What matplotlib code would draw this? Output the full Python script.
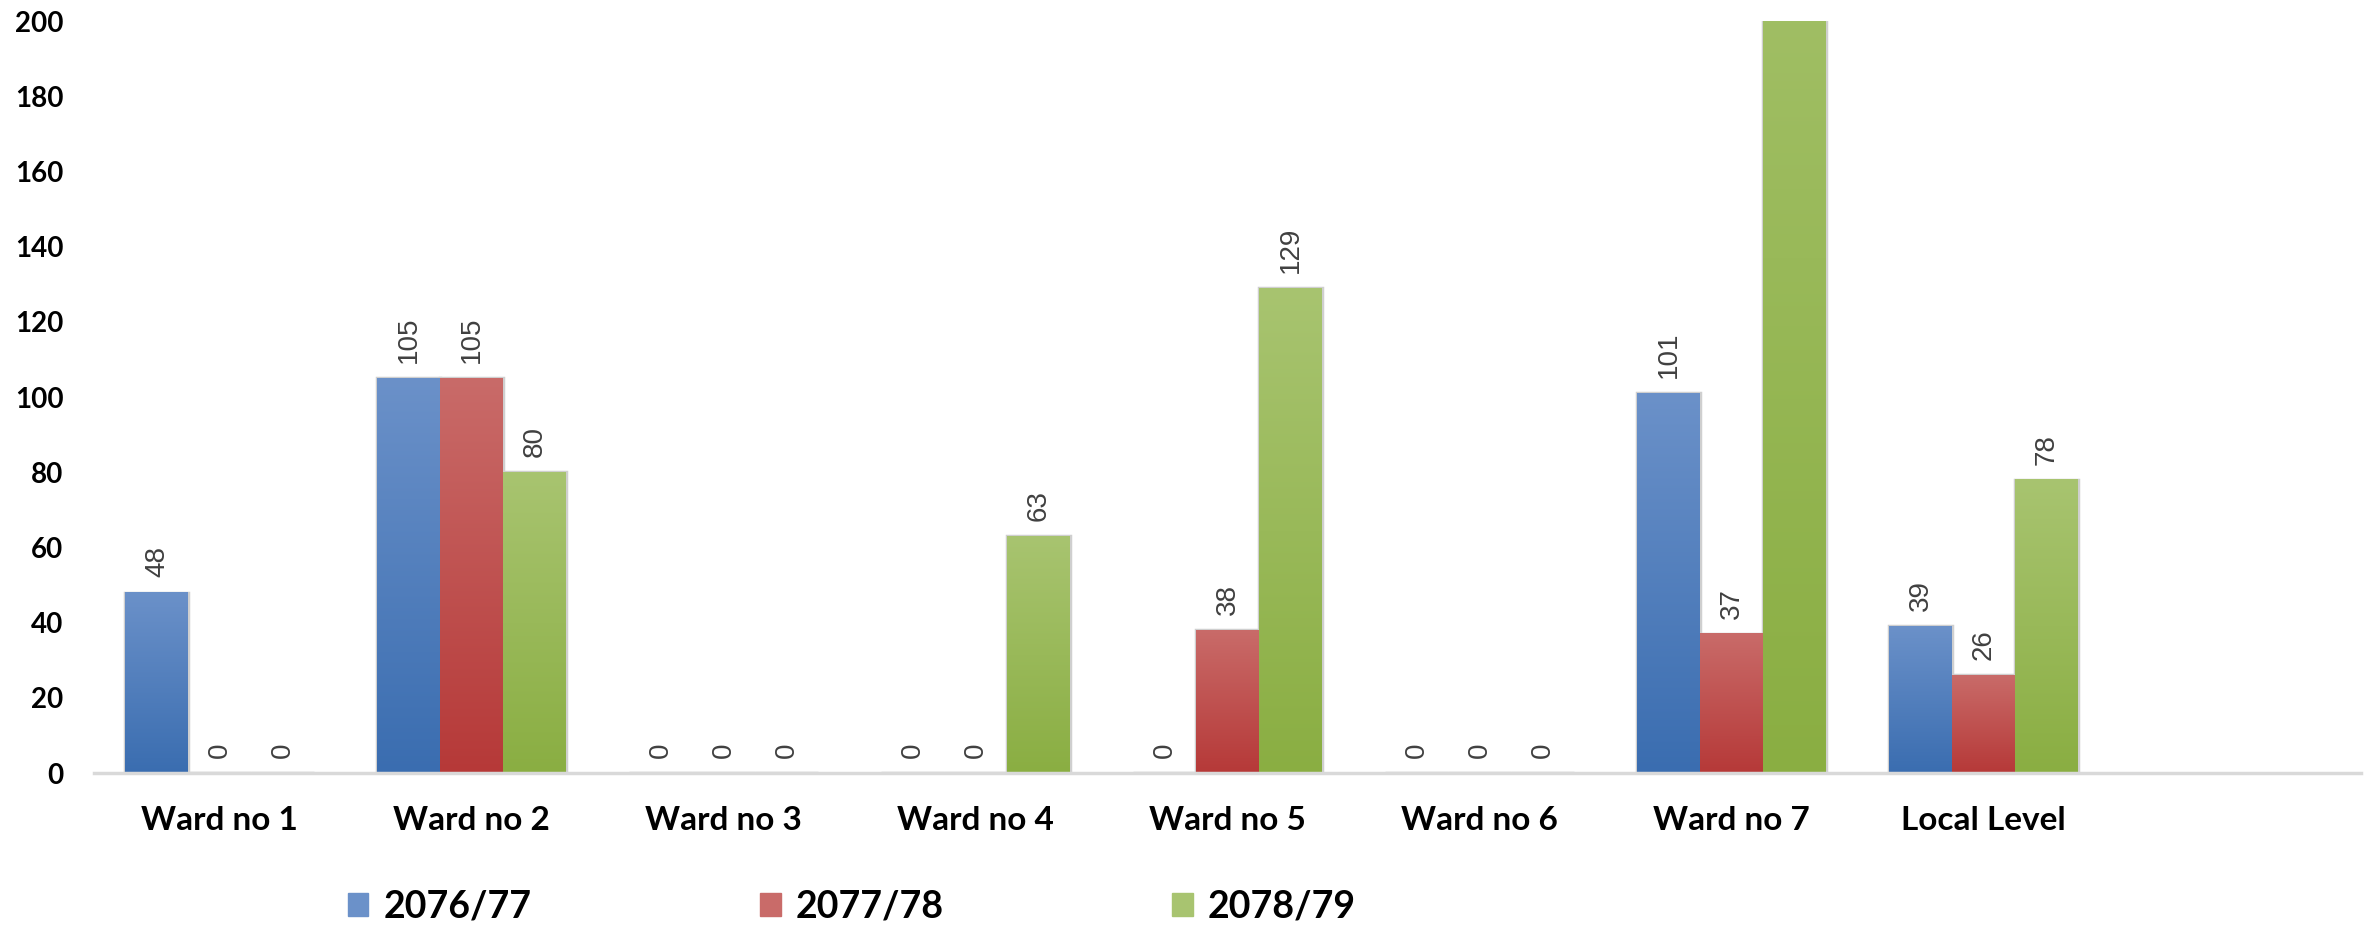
import matplotlib.pyplot as plt
import numpy as np
from matplotlib.colors import LinearSegmentedColormap
from matplotlib.patches import Patch

categories = ["Ward no 1", "Ward no 2", "Ward no 3", "Ward no 4", "Ward no 5",
              "Ward no 6", "Ward no 7", "Local Level"]
series = ["2076/77", "2077/78", "2078/79"]
v_2076 = [48, 105, 0, 0, 0, 0, 101, 39]
v_2077 = [0, 105, 0, 0, 38, 0, 37, 26]
v_2078 = [0, 80, 0, 63, 129, 0, 274, 78]  # ward 7 runs off the top of the axis
values = [v_2076, v_2077, v_2078]
y_ticks = [0, 20, 40, 60, 80, 100, 120, 140, 160, 180, 200]

# (bottom, top) colours of the bar gradients
grads = [("#3a6db0", "#6b91c9"), ("#b63938", "#c96b69"), ("#8aae42", "#a8c470")]

plt.rcParams['font.family'] = ['Lato', 'DejaVu Sans']

fig = plt.figure(figsize=(23.66, 9.25), dpi=100)
ax = fig.add_axes([0.0397, 0.1643, 0.9583, 0.8127])

x = np.arange(len(categories))
width = 0.25
grad = np.linspace(0, 1, 256).reshape(-1, 1)

for i, name in enumerate(series):
    pos = x + (i - 1) * width
    cmap = LinearSegmentedColormap.from_list(name, grads[i])
    # soft shadow edge
    ax.bar(pos, values[i], width, color="none", edgecolor="#cfcfcf",
           linewidth=2.5, zorder=1)
    for p, v in zip(pos, values[i]):
        if v > 0:
            ax.imshow(grad, extent=[p - width / 2, p + width / 2, 0, v],
                      origin="lower", aspect="auto", cmap=cmap, zorder=2)
        ax.annotate(str(v), (p, v), xytext=(0, 11), textcoords="offset points",
                    rotation=90, ha="center", va="bottom", fontsize=20,
                    color="#404040", family="Liberation Sans")

ax.set_xlim(-0.5, 8.5)
ax.set_ylim(0, 200)
ax.set_yticks(y_ticks)
ax.set_xticks(x, categories)
for s in ["top", "right", "left"]:
    ax.spines[s].set_visible(False)
ax.spines["bottom"].set_color("#d9d9d9")
ax.spines["bottom"].set_linewidth(2.5)
ax.spines["bottom"].set_zorder(3)
ax.tick_params(axis="y", length=0, pad=22, labelsize=20)
ax.tick_params(axis="x", length=0, pad=24, labelsize=24)
for t in ax.get_xticklabels() + ax.get_yticklabels():
    t.set_fontweight("bold")

handles = [Patch(color=grads[i][1], label=n) for i, n in enumerate(series)]
fig.legend(handles=handles, loc="center", bbox_to_anchor=(0.36, 0.02), ncol=3,
           frameon=False, prop={"size": 27, "weight": "bold"},
           handlelength=0.55, handleheight=0.55, handletextpad=0.4,
           columnspacing=6.1)

fig.savefig("out.png", dpi=100)
